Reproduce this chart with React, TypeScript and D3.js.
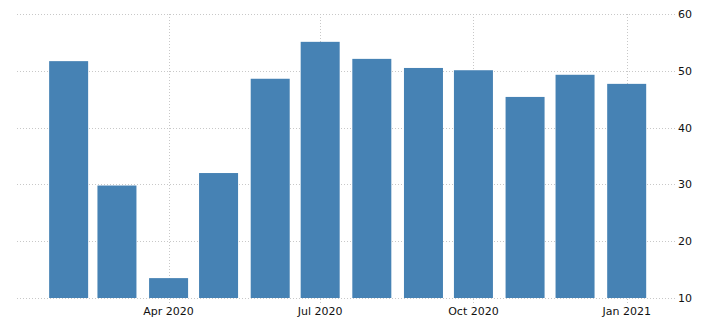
import React from "react";
import * as d3 from "d3";

const months = ["2020-02-01","2020-03-01","2020-04-01","2020-05-01","2020-06-01","2020-07-01","2020-08-01","2020-09-01","2020-10-01","2020-11-01","2020-12-01","2021-01-01"];
const values = [51.7, 29.8, 13.5, 32.0, 48.6, 55.1, 52.1, 50.5, 50.1, 45.4, 49.3, 47.7];
const yTicks = [10, 20, 30, 40, 50, 60];
const xTicks = ["2020-04-01","2020-07-01","2020-10-01","2021-01-01"];

const W = 701, H = 332;
const left = 17, right = 675, top = 14, bottom = 298;

export default function App() {
  const parse = d3.utcParse("%Y-%m-%d");
  const x = d3.scaleUtc().domain([parse("2020-01-01")!, parse("2021-01-30")!]).range([left, right]);
  const y = d3.scaleLinear().domain([10, 60]).range([bottom, top]);
  const fmt = d3.utcFormat("%b %Y");
  const bw = 39;
  return (
    <svg width={W} height={H} style={{ position: "absolute", left: 0, top: 0, background: "#fff" }}>
      {yTicks.map((t) => (
        <line key={t} x1={left} x2={right} y1={Math.round(y(t)) + 0.5} y2={Math.round(y(t)) + 0.5} stroke="#c8c8c8" strokeDasharray="1,2" strokeWidth={1} />
      ))}
      {xTicks.map((t) => {
        const xx = Math.round(x(parse(t)!)) + 0.5;
        return (
          <line key={t} x1={xx} x2={xx} y1={top} y2={bottom + 5} stroke="#c8c8c8" strokeDasharray="1,2" strokeWidth={1} />
        );
      })}
      {months.map((m, i) => {
        const cx = x(parse(m)!);
        return (
          <rect key={m} x={cx - bw / 2} y={y(values[i])} width={bw} height={y(10) - y(values[i])} fill="#4682b4" />
        );
      })}
      {xTicks.map((t) => (
        <text key={t} x={x(parse(t)!)} y={315} textAnchor="middle" fontFamily="'DejaVu Sans', sans-serif" fontSize={11} fill="#111">
          {fmt(parse(t)!)}
        </text>
      ))}
      {yTicks.map((t) => (
        <text key={t} x={678} y={y(t) + 4} textAnchor="start" fontFamily="'DejaVu Sans', sans-serif" fontSize={11} fill="#111">
          {t}
        </text>
      ))}
    </svg>
  );
}
